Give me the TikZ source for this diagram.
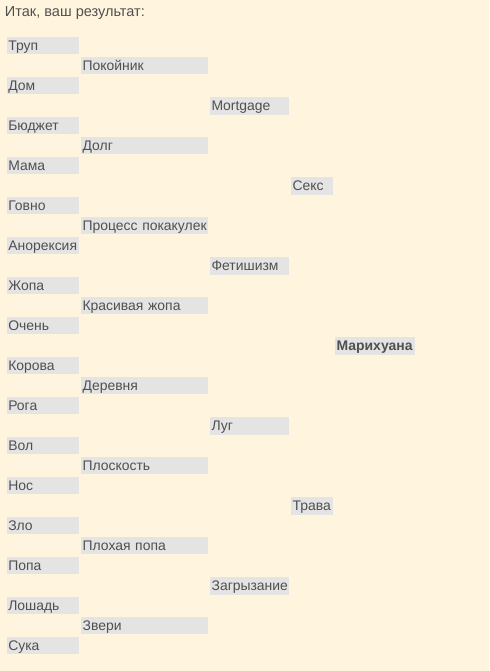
\documentclass[tikz,border=0pt]{standalone}
\usepackage{fontspec}
\setmainfont{Liberation Sans}
\definecolor{bgcream}{HTML}{FFF5DE}
\definecolor{cellgray}{HTML}{E4E4E4}
\definecolor{textgray}{HTML}{505050}
\tikzset{
    cell/.style = {fill = cellgray, text = textgray, anchor = west, inner xsep = 1pt, inner ysep = 0pt,
        text height = 10.4pt, text depth = 2.9pt, text width = #1, align = left,
        font = \fontsize{10.45pt}{12pt}\selectfont}
}
\begin{document}
\begin{tikzpicture}[x = 0.75pt, y = -0.75pt]
        \fill [bgcream] (0, 0) rectangle (489, 671);
        \useasboundingbox (0, 0) rectangle (489, 671);
        \node [anchor = base west, inner sep = 0pt, text = textgray, font = \fontsize{10.9pt}{12pt}\selectfont] (title) at (4.7, 16.7) {Итак, ваш результат:};
        % first round
        \foreach \word [count = \i from 0] in {Труп, Дом, Бюджет, Мама, Говно, Анорексия, Жопа, Очень,
            Корова, Рога, Вол, Нос, Зло, Попа, Лошадь, Сука}
            \node [cell = 52pt] (a\i) at (6.7, 45.5 + 40*\i) {\mbox{\word}};
        % second round
        \foreach \word [count = \i from 0] in {Покойник, Долг, Процесс покакулек, Красивая жопа,
            Деревня, Плоскость, Плохая попа, Звери}
            \node [cell = 93.25pt] (b\i) at (81, 65.5 + 80*\i) {\mbox{\word}};
        % third round
        \foreach \word [count = \i from 0] in {Mortgage, Фетишизм, Луг, Загрызание}
            \node [cell = 57.25pt] (c\i) at (210, 105.7 + 160*\i) {\mbox{\word}};
        % fourth round
        \foreach \word [count = \i from 0] in {Секс, Трава}
            \node [cell = 29.5pt] (d\i) at (291, 185.8 + 320*\i) {\mbox{\word}};
        % winner
        \node [cell = 58pt] (winner) at (335, 345.7) {\textbf{Марихуана}};
    \end{tikzpicture}
\end{document}
